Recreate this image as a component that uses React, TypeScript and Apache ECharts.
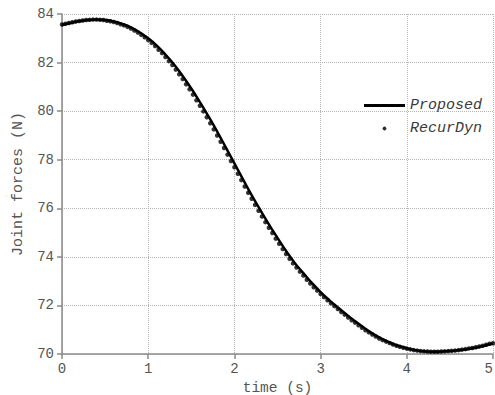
import React, { useEffect, useRef } from "react";
import * as echarts from "echarts";

const xTickLabels = ["0", "1", "2", "3", "4", "5"];
const yTickLabels = ["70", "72", "74", "76", "78", "80", "82", "84"];

const seriesNames = ["Proposed", "RecurDyn"];

// Proposed: sampled every 0.1 s from t = 0 to 5
const lineStep = 0.1;
const proposedValues = [
  83.55, 83.63, 83.7, 83.75, 83.77, 83.75, 83.69, 83.59, 83.45, 83.25,
  83.0, 82.7, 82.33, 81.92, 81.45, 80.93, 80.37, 79.78, 79.16, 78.51,
  77.85, 77.19, 76.54, 75.93, 75.34, 74.78, 74.24, 73.75, 73.33, 72.92,
  72.55, 72.22, 71.92, 71.63, 71.35, 71.09, 70.85, 70.65, 70.48, 70.34,
  70.24, 70.16, 70.11, 70.09, 70.1, 70.12, 70.15, 70.2, 70.26, 70.34,
  70.43,
];

// RecurDyn: sampled every 0.04 s from t = 0 to 5
const dotStep = 0.04;
const recurDynValues = [
  83.57, 83.6, 83.63, 83.66, 83.69, 83.71, 83.73, 83.75, 83.76, 83.77,
  83.77, 83.76, 83.75, 83.72, 83.7, 83.67, 83.63, 83.58, 83.53, 83.47,
  83.4, 83.32, 83.24, 83.14, 83.04, 82.93, 82.81, 82.68, 82.53, 82.39,
  82.23, 82.06, 81.9, 81.71, 81.52, 81.32, 81.11, 80.9, 80.68, 80.45,
  80.22, 79.99, 79.75, 79.5, 79.25, 79.0, 78.74, 78.48, 78.21, 77.95,
  77.69, 77.42, 77.16, 76.9, 76.64, 76.39, 76.14, 75.9, 75.66, 75.43,
  75.2, 74.98, 74.75, 74.54, 74.32, 74.12, 73.92, 73.73, 73.56, 73.39,
  73.23, 73.06, 72.9, 72.75, 72.61, 72.47, 72.34, 72.21, 72.09, 71.97,
  71.85, 71.73, 71.62, 71.5, 71.39, 71.29, 71.18, 71.08, 70.98, 70.89,
  70.8, 70.72, 70.64, 70.57, 70.51, 70.45, 70.39, 70.34, 70.3, 70.26,
  70.22, 70.19, 70.16, 70.14, 70.12, 70.11, 70.1, 70.09, 70.09, 70.09,
  70.1, 70.11, 70.12, 70.13, 70.14, 70.16, 70.18, 70.2, 70.23, 70.25,
  70.28, 70.31, 70.34, 70.38, 70.42, 70.44,
];

const MONO = "'Liberation Mono', 'Courier New', monospace";

export default function App() {
  const ref = useRef<HTMLDivElement>(null);

  useEffect(() => {
    if (!ref.current) return;
    const chart = echarts.init(ref.current, undefined, { renderer: "svg" });

    const proposedData = proposedValues.map((v, i) => [
      Number((i * lineStep).toFixed(3)),
      v,
    ]);
    const recurData = recurDynValues.map((v, i) => [
      Number((i * dotStep).toFixed(3)),
      v,
    ]);

    const axisColor = "#8a8a8a";
    const labelColor = "#555";
    const gridStyle = { color: "#b4b4b4", type: "dotted" as const, width: 1 };

    chart.setOption({
      animation: false,
      backgroundColor: "#ffffff",
      grid: {
        left: 62,
        right: 2,
        top: 14,
        bottom: 41,
        outerBoundsMode: "none",
        containLabel: false,
      },
      legend: {
        left: 364,
        top: 97,
        orient: "vertical",
        padding: 0,
        itemWidth: 41,
        itemHeight: 3,
        itemGap: 6,
        textStyle: {
          fontFamily: MONO,
          fontStyle: "italic",
          fontSize: 15,
          color: "#3a3a3a",
          lineHeight: 17,
          padding: [0, 0, 0, 0],
        },
        data: [
          { name: seriesNames[0], icon: "rect", itemStyle: { color: "#000" } },
          {
            name: seriesNames[1],
            icon: "circle",
            itemStyle: { color: "#000", borderColor: "#000", borderWidth: 1 },
          },
        ],
      },
      xAxis: {
        type: "value",
        min: 0,
        max: 5,
        interval: 1,
        name: "time (s)",
        nameLocation: "middle",
        nameGap: 19,
        nameTextStyle: { fontFamily: MONO, fontSize: 14.5, lineHeight: 15, color: labelColor },
        axisLine: { show: true, onZero: false, lineStyle: { color: axisColor, width: 1.5 } },
        axisTick: { show: true, inside: false, length: 5, lineStyle: { color: axisColor, width: 1.5 } },
        axisLabel: {
          fontFamily: MONO,
          fontSize: 14,
          color: labelColor,
          margin: 8,
          alignMaxLabel: "right",
          formatter: (v: number) => xTickLabels[Math.round(v)] ?? String(v),
        },
        splitLine: { show: true, lineStyle: gridStyle },
      },
      yAxis: {
        type: "value",
        min: 70,
        max: 84,
        interval: 2,
        name: "Joint forces (N)",
        nameLocation: "middle",
        nameGap: 31,
        nameTextStyle: { fontFamily: MONO, fontSize: 15, color: labelColor },
        axisLine: { show: true, onZero: false, lineStyle: { color: axisColor, width: 1.5 } },
        axisTick: { show: true, inside: false, length: 5, lineStyle: { color: axisColor, width: 1.5 } },
        axisLabel: {
          fontFamily: MONO,
          fontSize: 14,
          color: labelColor,
          margin: 8,
          formatter: (v: number) => yTickLabels[Math.round((v - 70) / 2)] ?? String(v),
        },
        splitLine: { show: true, lineStyle: gridStyle },
      },
      series: [
        {
          name: seriesNames[0],
          type: "line",
          data: proposedData,
          symbol: "none",
          showSymbol: false,
          smooth: true,
          lineStyle: { color: "#000", width: 2.5 },
          itemStyle: { color: "#000" },
          z: 2,
        },
        {
          name: seriesNames[1],
          type: "scatter",
          data: recurData,
          symbol: "circle",
          symbolSize: 4.5,
          itemStyle: { color: "#000" },
          z: 3,
        },
      ],
    });

    return () => chart.dispose();
  }, []);

  return (
    <div
      ref={ref}
      style={{ position: "fixed", left: 0, top: 0, width: 495, height: 395 }}
    />
  );
}
